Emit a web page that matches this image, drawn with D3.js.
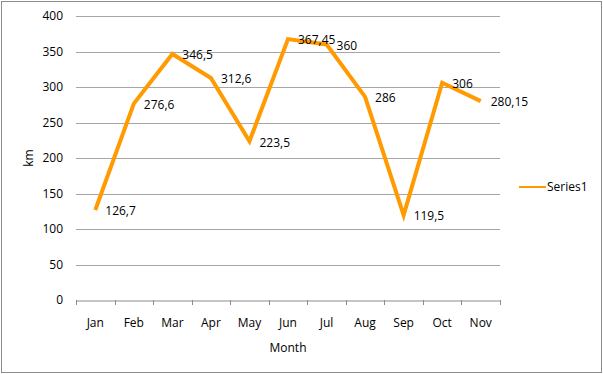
<!DOCTYPE html>
<html>
<head>
<meta charset="utf-8">
<script src="https://cdn.jsdelivr.net/npm/d3@7"></script>
<style>
  body { margin: 0; background: #fff; }
  svg text { font-family: "Open Sans", "Liberation Sans", sans-serif; font-size: 12px; fill: #000; }
</style>
</head>
<body>
<div id="chart"></div>
<script>
const months = ['Jan','Feb','Mar','Apr','May','Jun','Jul','Aug','Sep','Oct','Nov'];
const distance = [126.7, 276.6, 346.5, 312.6, 223.5, 367.45, 360, 286, 119.5, 306, 280.15];
const yTicks = [0, 50, 100, 150, 200, 250, 300, 350, 400];
const seriesName = 'Series1';

const W = 603, H = 374;
const plot = {left: 76, right: 500, top: 16, bottom: 300};

const svg = d3.select('#chart').append('svg')
              .attr('width', W)
              .attr('height', H);

// outer border
svg.append('rect')
   .attr('x', 1.5).attr('y', 1.5)
   .attr('width', W - 3).attr('height', H - 3)
   .attr('fill', '#fff')
   .attr('stroke', '#8c8c8c');

const x = d3.scaleBand().domain(months).range([plot.left, plot.right]);
const y = d3.scaleLinear().domain([0, 400]).range([plot.bottom, plot.top]);

// gridlines
svg.append('g')
   .selectAll('line')
   .data(yTicks.filter(d => d > 0))
   .join('line')
   .attr('x1', plot.left).attr('x2', plot.right)
   .attr('y1', d => Math.round(y(d)) + 0.5).attr('y2', d => Math.round(y(d)) + 0.5)
   .attr('stroke', '#a6a6a6');

// y labels
svg.append('g')
   .selectAll('text')
   .data(yTicks)
   .join('text')
   .attr('x', 63)
   .attr('y', d => y(d))
   .attr('dy', '0.35em')
   .attr('text-anchor', 'end')
   .text(d => d);

// x axis
const xAxis = svg.append('g')
   .attr('transform', `translate(0,${Math.round(plot.bottom) + 0.5})`)
   .call(d3.axisBottom(x).tickSize(0).tickPadding(0).tickFormat(''));
xAxis.select('.domain').attr('stroke', '#8c8c8c');
xAxis.selectAll('.tick').remove();

const tickPos = months.map(m => x(m)).concat([plot.right]);
svg.append('g')
   .selectAll('line')
   .data(tickPos)
   .join('line')
   .attr('x1', d => Math.round(d) + 0.5).attr('x2', d => Math.round(d) + 0.5)
   .attr('y1', plot.bottom).attr('y2', plot.bottom + 5)
   .attr('stroke', '#8c8c8c');

svg.append('g')
   .selectAll('text')
   .data(months)
   .join('text')
   .attr('x', d => x(d) + x.bandwidth() / 2)
   .attr('y', 323)
   .attr('dy', '0.35em')
   .attr('text-anchor', 'middle')
   .text(d => d);

// axis titles
svg.append('text')
   .attr('transform', 'translate(29,158) rotate(-90)')
   .attr('text-anchor', 'middle')
   .attr('dy', '0.35em')
   .text('km');
svg.append('text')
   .attr('x', 288).attr('y', 348)
   .attr('text-anchor', 'middle')
   .attr('dy', '0.35em')
   .text('Month');

// line
const pts = months.map((m, i) => [x(m) + x.bandwidth() / 2, y(distance[i])]);
svg.append('path')
   .attr('d', d3.line()(pts))
   .attr('fill', 'none')
   .attr('stroke', '#ff9a00')
   .attr('stroke-width', 4)
   .attr('stroke-linejoin', 'miter');

// data labels
svg.append('g')
   .selectAll('text')
   .data(distance)
   .join('text')
   .attr('x', (d, i) => pts[i][0] + 10)
   .attr('y', (d, i) => pts[i][1] + 1)
   .attr('dy', '0.35em')
   .text(d => String(d).replace('.', ','));

// legend
svg.append('line')
   .attr('x1', 519).attr('x2', 546)
   .attr('y1', 187).attr('y2', 187)
   .attr('stroke', '#ff9a00')
   .attr('stroke-width', 2);
svg.append('text')
   .attr('x', 547).attr('y', 187)
   .attr('dy', '0.35em')
   .text(seriesName);
</script>
</body>
</html>
